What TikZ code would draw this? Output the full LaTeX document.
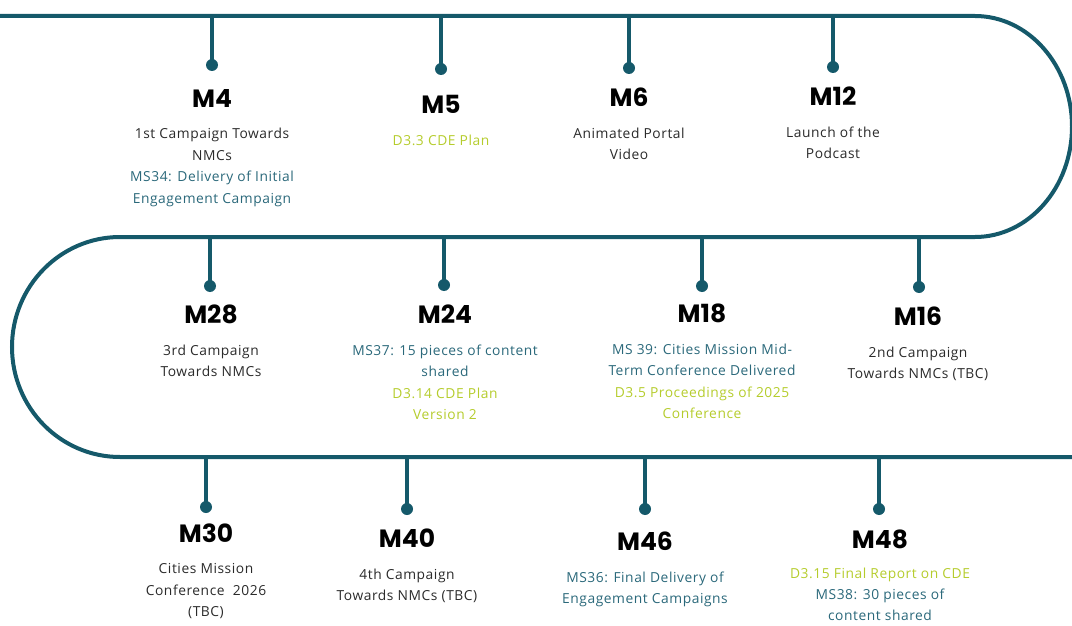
\documentclass[tikz,border=0pt]{standalone}
\usepackage{fontspec}
\setmainfont{Open Sans}[LetterSpace=4]
\newfontfamily\titlefont{Poppins}
\usetikzlibrary{positioning}
\definecolor{track}{HTML}{15596A}
\definecolor{ink}{HTML}{2A2A2A}
\definecolor{msteal}{HTML}{2A687A}
\definecolor{lime}{HTML}{B5CC2C}
\newcommand\msline[1]{\textcolor{msteal}{#1}}
\newcommand\delline[1]{\textcolor{lime}{#1}}
\tikzset{
  %% the serpentine track
  track/.style  = {draw=track, line width=4pt},
  stem/.style   = {draw=track, line width=3.2pt},
  dot/.style    = {circle, fill=track, inner sep=0pt, minimum size=12pt},
  %% milestone texts
  mtitle/.style = {font=\titlefont\bfseries\fontsize{25}{25}\selectfont,
                   text=black, inner sep=0pt},
  desc/.style   = {font=\fontsize{13.8}{21.5}\selectfont, align=center,
                   inner sep=0pt, text=ink},
}

\begin{document}
\begin{tikzpicture}[x=1pt, y=-1pt, node distance=21pt]
\useasboundingbox (0,0) rectangle (1072,626);

%% track
\coordinate (start) at (0,16);
\coordinate (r1) at (975,16);
\coordinate (l1) at (120,237);
\coordinate (stop) at (1072,457);
\draw[track] (start) -- (r1)
  arc[start angle=90, end angle=-90, x radius=97pt, y radius=110.5pt]
  -- (l1)
  arc[start angle=90, end angle=270, x radius=108pt, y radius=110pt]
  -- (stop);

%% ---- row 1 ----
\coordinate (t4) at (212,16);   \node[dot] (d4) at (212,65) {};
\coordinate (t5) at (441,16);   \node[dot] (d5) at (441,69) {};
\coordinate (t6) at (629,16);   \node[dot] (d6) at (629,68) {};
\coordinate (t12) at (833,16);  \node[dot] (d12) at (833,67) {};

\node[mtitle] (m4) at (212,98) {M4};
\node[desc, below=of m4] (m4txt) {1st Campaign Towards\\NMCs\\
  \msline{MS34: Delivery of Initial}\\\msline{Engagement Campaign}};
\node[mtitle] (m5) at (441,104) {M5};
\node[desc, below=of m5] (m5txt) {\delline{D3.3 CDE Plan}};
\node[mtitle] (m6) at (629,97) {M6};
\node[desc, below=of m6] (m6txt) {Animated Portal\\Video};
\node[mtitle] (m12) at (833,96) {M12};
\node[desc, below=of m12] (m12txt) {Launch of the\\Podcast};

%% ---- row 2 ----
\coordinate (t28) at (210,237); \node[dot] (d28) at (210,286) {};
\coordinate (t24) at (444,237); \node[dot] (d24) at (444,285) {};
\coordinate (t18) at (702,237); \node[dot] (d18) at (702,286) {};
\coordinate (t16) at (919,237); \node[dot] (d16) at (919,287) {};

\node[mtitle] (m28) at (211,314) {M28};
\node[desc, below=of m28] (m28txt) {3rd Campaign\\Towards NMCs};
\node[mtitle] (m24) at (445,314) {M24};
\node[desc, below=of m24] (m24txt) {\msline{MS37: 15 pieces of content}\\
  \msline{shared}\\\delline{D3.14 CDE Plan}\\\delline{Version 2}};
\node[mtitle] (m18) at (702,313) {M18};
\node[desc, below=of m18] (m18txt) {\msline{MS 39: Cities Mission Mid-}\\
  \msline{Term Conference Delivered}\\\delline{D3.5 Proceedings of 2025}\\
  \delline{Conference}};
\node[mtitle] (m16) at (918,316) {M16};
\node[desc, below=of m16] (m16txt) {2nd Campaign\\Towards NMCs (TBC)};

%% ---- row 3 ----
\coordinate (t30) at (206,457); \node[dot] (d30) at (206,507) {};
\coordinate (t40) at (407,457); \node[dot] (d40) at (407,509) {};
\coordinate (t46) at (645,457); \node[dot] (d46) at (645,509) {};
\coordinate (t48) at (879,457); \node[dot] (d48) at (879,509) {};

\node[mtitle] (m30) at (206,533) {M30};
\node[desc, below=of m30] (m30txt) {Cities Mission\\Conference\ \ 2026\\(TBC)};
\node[mtitle] (m40) at (407,538) {M40};
\node[desc, below=of m40] (m40txt) {4th Campaign\\Towards NMCs (TBC)};
\node[mtitle] (m46) at (645,541) {M46};
\node[desc, below=of m46] (m46txt) {\msline{MS36: Final Delivery of}\\
  \msline{Engagement Campaigns}};
\node[mtitle] (m48) at (880,539) {M48};
\node[desc, below=19pt of m48, font=\fontsize{13.8}{21}\selectfont] (m48txt)
  {\delline{D3.15 Final Report on CDE}\\
  \msline{MS38: 30 pieces of}\\\msline{content shared}};

%% stems
\foreach \m in {4,5,6,12,28,24,18,16,30,40,46,48}
  \draw[stem] (t\m) -- (d\m.center);

\end{tikzpicture}
\end{document}
